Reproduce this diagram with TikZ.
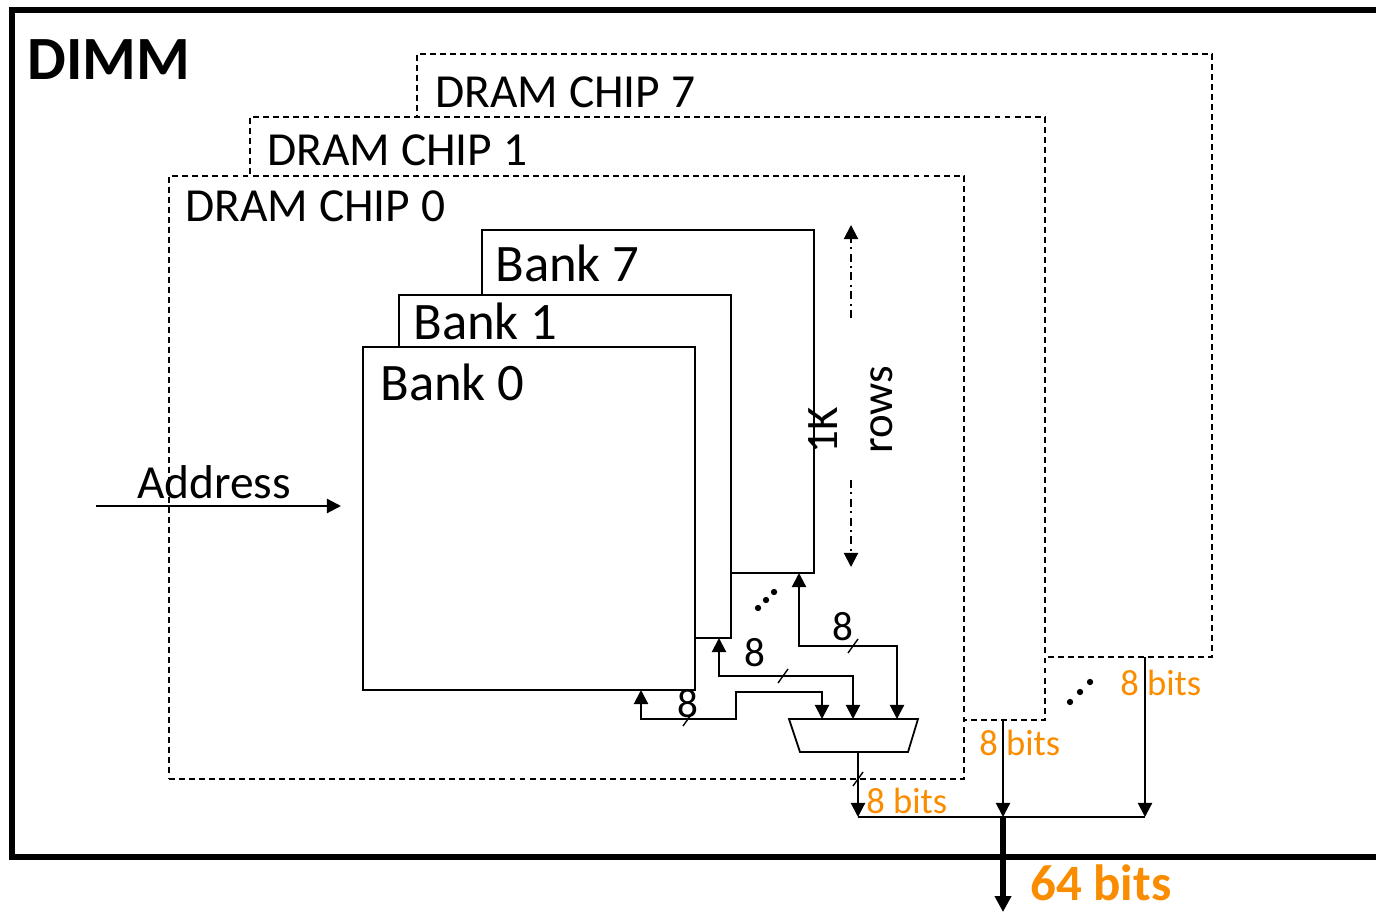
\documentclass[tikz,border=0pt]{standalone}
\usepackage{fontspec}
\setmainfont{Carlito}
\usepackage{xcolor}
\usepackage{tikz}
\usetikzlibrary{arrows.meta}
\definecolor{bitorange}{RGB}{250,140,0}

\tikzset{
  chipbox/.style={draw, dash pattern=on 3.4pt off 2.3pt, line width=0.95pt, fill=white,
    minimum width=15.9cm, minimum height=12.06cm, anchor=north west, inner sep=0, outer sep=0},
  bankbox/.style={draw, line width=1pt, fill=white,
    minimum width=6.64cm, minimum height=6.86cm, anchor=north west, inner sep=0, outer sep=0},
  chiptext/.style={anchor=base west, inner sep=0, font=\fontsize{27}{32}\selectfont},
  banktext/.style={anchor=base west, inner sep=0, font=\fontsize{30}{36}\selectfont},
  widthtext/.style={inner sep=0, font=\fontsize{23.4}{28}\selectfont},
  bitstext/.style={anchor=base west, inner sep=0, text=bitorange, font=\fontsize{20.8}{25}\selectfont},
  wire/.style={line width=1.2pt, -{Triangle[width=8pt,length=8pt]}},
  twoway/.style={line width=1.2pt, {Triangle[width=8pt,length=8pt]}-{Triangle[width=8pt,length=8pt]}},
  rowsline/.style={line width=1.2pt, dash pattern=on 4.5pt off 2.5pt on 1.2pt off 2.5pt,
    -{Triangle[width=8pt,length=8pt]}}
}

\begin{document}
\begin{tikzpicture}[x=0.02cm,y=-0.02cm]
\useasboundingbox (0,0) rectangle (1376,915);

\draw[line width=3.4pt] (1376,10) -- (12,10) -- (12,857) -- (1376,857);
\node at (27,80) (dimm)[anchor=base west, inner sep=0, font=\fontsize{35}{42}\selectfont\bfseries]{DIMM};

\node at (417,54) (chip7)[chipbox]{};
\node at (435,108) (chip7label)[chiptext]{DRAM CHIP 7};
\node at (250,117) (chip1)[chipbox]{};
\node at (267,166) (chip1label)[chiptext]{DRAM CHIP 1};
\node at (169,176) (chip0)[chipbox]{};
\node at (185,222) (chip0label)[chiptext]{DRAM CHIP 0};

\node at (482,230) (bank7)[bankbox]{};
\node at (495,282) (bank7label)[banktext]{Bank 7};
\node at (399,295) (bank1)[bankbox]{};
\node at (413,340) (bank1label)[banktext]{Bank 1};
\node at (363,347) (bank0)[bankbox]{};
\node at (380,400) (bank0label)[banktext]{Bank 0};

\coordinate (addrin) at (96,506);
\coordinate (addrout) at (341,506);
\draw[wire] (addrin) -- (addrout);
\node at (214,499) (addrlabel)[anchor=base, inner sep=0, font=\fontsize{27}{32}\selectfont]{Address};

\coordinate (rowsup) at (851,318);
\coordinate (rowstop) at (851,225);
\coordinate (rowsdown) at (851,480);
\coordinate (rowsbot) at (851,567);
\draw[rowsline] (rowsup) -- (rowstop);
\draw[rowsline] (rowsdown) -- (rowsbot);
\node at (823,430) (onek)[rotate=90, inner sep=0, font=\fontsize{25.6}{30}\selectfont]{1K};
\node at (882,410) (rows)[rotate=90, inner sep=0, font=\fontsize{25.6}{30}\selectfont]{rows};

\fill (758,608) circle (1.8pt) (766,600) circle (1.8pt) (774,592) circle (1.8pt);
\fill (1070,702) circle (1.8pt) (1080,692) circle (1.8pt) (1090,682) circle (1.8pt);

\draw[line width=1pt] (789,719) -- (918,719) -- (908,752) -- (800,752) -- cycle;
\coordinate (muxout) at (858,752);
\coordinate (in0) at (822,719);
\coordinate (in1) at (853,719);
\coordinate (in7) at (897,719);
\coordinate (port0) at (641,690);
\coordinate (port1) at (719,638);
\coordinate (port7) at (799,573);

\draw[twoway] (port0) -- ++(0,29) -- ++(95,0) -- ++(0,-27) -| (in0);
\draw[twoway] (port1) -- ++(0,38) -| (in1);
\draw[twoway] (port7) -- ++(0,73) -| (in7);
\draw[line width=0.8pt] (683,726) -- (693,712);
\draw[line width=0.8pt] (778,683) -- (788,669);
\draw[line width=0.8pt] (848,653) -- (858,639);
\node at (688,704) (w0)[widthtext]{8};
\node at (755,653) (w1)[widthtext]{8};
\node at (843,627) (w7)[widthtext]{8};

\coordinate (busleft) at (858,817);
\coordinate (busmid) at (1003,817);
\coordinate (busright) at (1145,817);
\coordinate (chip1out) at (1003,720);
\coordinate (chip7out) at (1145,657);
\coordinate (dimmout) at (1003,912);

\draw[wire] (muxout) -- (busleft);
\draw[line width=0.8pt] (853,786) -- (863,772);
\draw[wire] (chip1out) -- (busmid);
\draw[wire] (chip7out) -- (busright);
\draw[line width=1.2pt] (busleft) -- (busright);
\draw[line width=3.4pt, -{Triangle[width=9pt,length=9pt]}] (busmid) -- (dimmout);

\node at (866,813) (bits0)[bitstext]{8 bits};
\node at (979,755) (bits1)[bitstext]{8 bits};
\node at (1120,695) (bits7)[bitstext]{8 bits};
\node at (1030,900) (total)[anchor=base west, inner sep=0, text=bitorange, font=\fontsize{29}{35}\selectfont\bfseries]{64 bits};
\end{tikzpicture}
\end{document}
